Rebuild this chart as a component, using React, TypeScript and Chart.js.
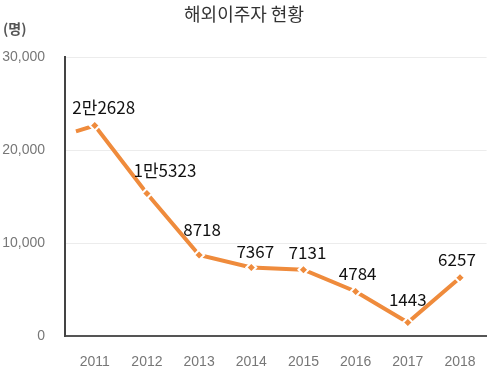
import React, { useEffect, useRef } from "react";
import { Chart, registerables } from "chart.js";

Chart.register(...registerables);

const TITLE = "해외이주자 현황";
const UNIT = "(명)";
const years = [2011, 2012, 2013, 2014, 2015, 2016, 2017, 2018];
const emigrants = [22628, 15323, 8718, 7367, 7131, 4784, 1443, 6257];
// short stub of the line visible before the first year
const leadInYear = 2010.64;
const leadInValue = 22000;
const yTicks = [0, 10000, 20000, 30000];
// label nudges (style only)
const labelDX = [9, 18, 3, 4, 4, 2, 0, -3];
const labelDY = [-18, -23, -25, -16, -17, -18, -23, -18];

const ORANGE = "#EF8B3C";

function fmtKorean(v: number): string {
  if (v >= 10000) return `${Math.floor(v / 10000)}만${v % 10000}`;
  return String(v);
}

export default function App() {
  const ref = useRef<HTMLCanvasElement | null>(null);
  useEffect(() => {
    if (!ref.current) return;
    const points = [{ x: leadInYear, y: leadInValue }, ...years.map((y, i) => ({ x: y, y: emigrants[i] }))];
    const textPlugin = {
      id: "texts",
      afterDraw(chart: any) {
        const ctx = chart.ctx;
        ctx.save();
        ctx.fillStyle = "#333";
        ctx.font = "18px 'Noto Sans CJK KR'";
        ctx.textAlign = "center";
        ctx.textBaseline = "middle";
        ctx.fillText(TITLE, 244, 14);
        ctx.font = "bold 14px 'Noto Sans CJK KR'";
        ctx.fillStyle = "#555";
        ctx.textAlign = "left";
        ctx.fillText(UNIT, 3, 29);
        const meta = chart.getDatasetMeta(0);
        ctx.font = "17px 'Noto Sans CJK KR'";
        ctx.fillStyle = "#111";
        ctx.textAlign = "center";
        years.forEach((_, i) => {
          const el = meta.data[i + 1];
          ctx.fillText(fmtKorean(emigrants[i]), el.x + labelDX[i], el.y + labelDY[i]);
        });
        ctx.restore();
      },
    };
    const chart = new Chart(ref.current, {
      type: "line",
      data: {
        datasets: [
          {
            data: points,
            borderColor: ORANGE,
            borderWidth: 4,
            backgroundColor: ORANGE,
            pointStyle: "rectRot",
            pointRadius: points.map((_, i) => (i === 0 ? 0 : 5)),
            pointBorderColor: "#fff",
            pointBorderWidth: 2,
            pointBackgroundColor: ORANGE,
            tension: 0,
          },
        ],
      },
      options: {
        animation: false,
        responsive: false,
        layout: { padding: { top: 57, right: 4, left: 0, bottom: 0 } },
        plugins: { legend: { display: false }, tooltip: { enabled: false } },
        scales: {
          x: {
            type: "linear",
            min: 2010.43,
            max: 2018.51,
            afterBuildTicks: (s: any) => {
              s.ticks = years.map((v) => ({ value: v }));
            },
            afterFit: (s: any) => {
              s.height = 37;
            },
            grid: { display: false, drawTicks: false },
            border: { display: true, color: "#555", width: 2 },
            ticks: {
              padding: 18,
              color: "#777",
              font: { family: "'Liberation Sans', Arial", size: 14 },
              callback: (v: any) => String(v),
              maxRotation: 0,
              autoSkip: false,
            },
          },
          y: {
            min: 0,
            max: 30000,
            afterBuildTicks: (s: any) => {
              s.ticks = yTicks.map((v) => ({ value: v }));
            },
            afterFit: (s: any) => {
              s.width = 65;
            },
            grid: { color: "#ececec", lineWidth: 1, drawTicks: false },
            border: { display: true, color: "#444", width: 2 },
            ticks: {
              padding: 20,
              color: "#777",
              font: { family: "'Liberation Sans', Arial", size: 14 },
              callback: (v: any) => Number(v).toLocaleString("en-US"),
            },
          },
        },
      },
      plugins: [textPlugin],
    });
    return () => chart.destroy();
  }, []);
  return (
    <div style={{ position: "fixed", left: 0, top: 0, width: 494, height: 373, background: "#fff" }}>
      <canvas ref={ref} width={494} height={373} style={{ width: 494, height: 373, display: "block" }} />
    </div>
  );
}
